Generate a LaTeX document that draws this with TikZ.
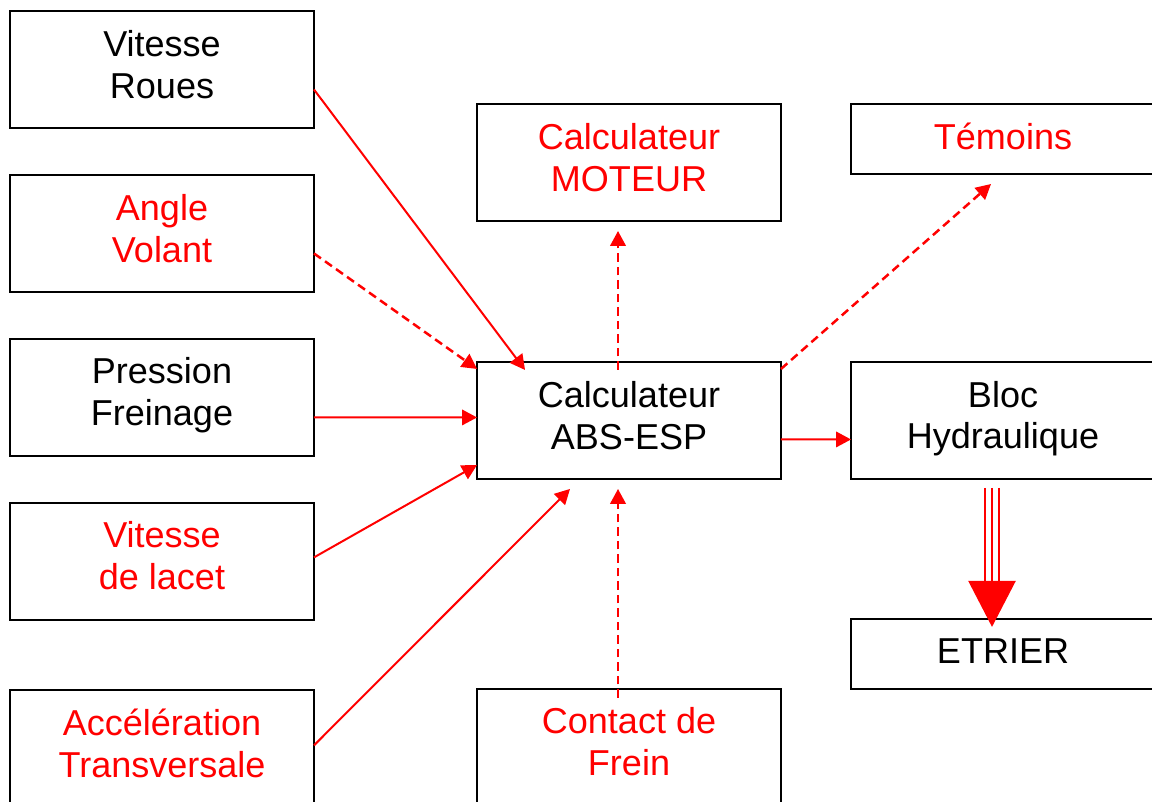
\documentclass[tikz,border=0pt]{standalone}
\usepackage{fontspec}
\setmainfont{Liberation Sans}
\usetikzlibrary{arrows.meta, positioning, calc}

\begin{document}
\begin{tikzpicture}[x=0.02cm, y=-0.02cm, >={Triangle[length=0.3cm,width=0.31cm]},
  every node/.style={font=\fontsize{20.5}{23.9}\selectfont},
  cadre/.style={draw, line width=0.04cm, minimum width=6.08cm, minimum height=2.34cm, inner sep=0pt, outer sep=0pt, align=center, text depth=0.22cm},
  mince/.style={cadre, minimum height=1.4cm, text depth=0.1cm},
  liaison/.style={->, red, line width=0.04cm},
  option/.style={liaison, line width=0.05cm, dash pattern=on 0.17cm off 0.1cm},
  hydro/.style={red, line width=0.05cm}]
\useasboundingbox (0,0) rectangle (1152,801);
% capteurs
\node[cadre] (roues) at (162,69.5) {Vitesse\\Roues};
\node[cadre, text=red, below=0.94cm of roues] (angle) {Angle\\Volant};
\node[cadre, below=0.94cm of angle] (pression) {Pression\\Freinage};
\node[cadre, text=red, below=0.94cm of pression] (lacet) {Vitesse\\de lacet};
\node[cadre, text=red, below=1.4cm of lacet] (accel) {Acc\'el\'eration\\Transversale};
% calculateurs
\node[cadre, text=red] (moteur) at (629,162.5) {Calculateur\\MOTEUR};
\node[cadre, below=2.82cm of moteur] (abs) {Calculateur\\ABS-ESP};
\node[cadre, text=red, below=4.2cm of abs] (contact) {Contact de\\Frein};
% actionneurs
\node[mince, text=red] (temoins) at (1003,139) {T\'emoins};
\node[cadre, below=3.76cm of temoins] (bloc) {Bloc\\Hydraulique};
\node[mince, below=2.8cm of bloc] (etrier) {ETRIER};
% liaisons
\draw[liaison] ($(roues.east)+(0,20)$) -- ($(abs.north west)+(48,8)$);
\draw[option] ($(angle.east)+(0,20)$) -- ($(abs.north west)+(0,7)$);
\draw[liaison] ($(pression.east)+(0,20)$) -- ($(abs.west)+(0,-3)$);
\draw[liaison] ($(lacet.east)+(0,-4)$) -- ($(abs.south west)+(0,-14)$);
\draw[liaison] ($(accel.east)+(0,-3)$) -- ($(abs.south)+(-59,10)$);
\draw[option] ($(contact.north)+(-11,9)$) -- ($(abs.south)+(-11,10)$);
\draw[option] ($(abs.north)+(-11,8)$) -- ($(moteur.south)+(-11,10)$);
\draw[option] ($(abs.north east)+(0,7)$) -- ($(temoins.south)+(-12,10)$);
\draw[liaison] ($(abs.east)+(0,19)$) -- ($(bloc.west)+(0,19)$);
% commande hydraulique
\foreach \dx in {-18,-4}
  \draw[hydro] ($(bloc.south)+(\dx,9)$) -- ($(etrier.north)+(\dx,-38)$);
\draw[hydro, -{Triangle[length=0.92cm,width=0.94cm]}] ($(bloc.south)+(-11,9)$) -- ($(etrier.north)+(-11,8)$);
\end{tikzpicture}
\end{document}
